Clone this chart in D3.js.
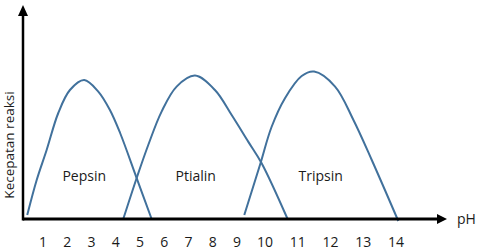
<!DOCTYPE html>
<html>
<head>
<meta charset="utf-8">
<script src="https://cdn.jsdelivr.net/npm/d3@7/dist/d3.min.js"></script>
<style>
  body { margin: 0; background: #fff; }
  svg { display: block; font-family: "Open Sans", sans-serif; }
</style>
</head>
<body>
<svg id="chart" width="482" height="250"></svg>
<script>
// tick labels on the pH axis
var phTicks = [1, 2, 3, 4, 5, 6, 7, 8, 9, 10, 11, 12, 13, 14];

// enzyme names and where the name sits (pH, rate)
var enzymes = ["Pepsin", "Ptialin", "Tripsin"];
var labelPh = [2.7, 7.3, 11.7];
var labelRate = [19, 19, 19];

// curves: pH and reaction rate (0..100)
var pepsinPh   = [0.35, 0.74, 1.15, 1.63, 2.11, 2.70, 3.28, 3.76, 4.18, 4.84, 5.48];
var pepsinRate = [2, 19.5, 34.5, 53, 64.5, 69.5, 63.7, 54.5, 43, 21.2, 0];

var ptialinPh   = [4.31, 4.86, 5.34, 5.89, 6.51, 7.27, 8.09, 8.78, 9.40, 9.88, 10.69];
var ptialinRate = [0, 20.4, 37, 53.7, 66.2, 71.7, 64.5, 52, 38.7, 27.9, 0];

var tripsinPh   = [9.26, 9.82, 10.20, 10.61, 11.12, 11.50, 12.14, 12.70, 13.26, 14.07];
var tripsinRate = [2, 27, 46, 60.4, 71.5, 73.7, 66.2, 49.5, 29.5, -1];

var svg = d3.select("#chart");
var margin = {top: 5, right: 35, bottom: 31, left: 23};
var W = 482, H = 250;

// the tick labels are not evenly spaced in the original, so a piecewise scale
var x = d3.scaleLinear()
  .domain([1, 9, 10, 14])
  .range([43, 237, 265, 396]);

var y = d3.scaleLinear()
  .domain([0, 100])
  .range([H - margin.bottom, 19]);

var x0 = margin.left, y0 = y(0);
var xEnd = W - margin.right, yEnd = margin.top;

var line = d3.line()
  .x(function(d){ return x(d[0]); })
  .y(function(d){ return y(d[1]); })
  .curve(d3.curveCatmullRom.alpha(0.5));

function pairs(a, b){ return a.map(function(v, i){ return [v, b[i]]; }); }

var curves = [pairs(pepsinPh, pepsinRate), pairs(ptialinPh, ptialinRate), pairs(tripsinPh, tripsinRate)];

svg.selectAll("path.curve")
  .data(curves)
  .enter().append("path")
  .attr("class", "curve")
  .attr("d", line)
  .attr("fill", "none")
  .attr("stroke", "#41719c")
  .attr("stroke-width", 2);

// axes
svg.append("line")
  .attr("x1", x0).attr("y1", y0)
  .attr("x2", xEnd - 8).attr("y2", y0)
  .attr("stroke", "#000").attr("stroke-width", 3);
svg.append("path")
  .attr("d", "M" + xEnd + "," + y0 + "L" + (xEnd - 10) + "," + (y0 - 5) + "L" + (xEnd - 10) + "," + (y0 + 5) + "Z")
  .attr("fill", "#000");

svg.append("line")
  .attr("x1", x0).attr("y1", y0 + 1.5)
  .attr("x2", x0).attr("y2", yEnd + 8)
  .attr("stroke", "#000").attr("stroke-width", 2.5);
svg.append("path")
  .attr("d", "M" + x0 + "," + yEnd + "L" + (x0 - 5) + "," + (yEnd + 11) + "L" + (x0 + 5) + "," + (yEnd + 11) + "Z")
  .attr("fill", "#000");

// tick labels
svg.selectAll("text.tick")
  .data(phTicks)
  .enter().append("text")
  .attr("class", "tick")
  .attr("x", function(d){ return x(d); })
  .attr("y", 247)
  .attr("text-anchor", "middle")
  .attr("font-size", "14px")
  .attr("fill", "#1a1a1a")
  .text(function(d){ return d; });

// enzyme names
svg.selectAll("text.enz")
  .data(enzymes)
  .enter().append("text")
  .attr("class", "enz")
  .attr("x", function(d, i){ return x(labelPh[i]); })
  .attr("y", function(d, i){ return y(labelRate[i]); })
  .attr("text-anchor", "middle")
  .attr("font-size", "14px")
  .attr("fill", "#1a1a1a")
  .text(function(d){ return d; });

svg.append("text")
  .attr("x", xEnd + 10)
  .attr("y", y0 + 5)
  .attr("font-size", "14px")
  .attr("fill", "#1a1a1a")
  .text("pH");

svg.append("text")
  .attr("transform", "translate(14," + 145 + ") rotate(-90)")
  .attr("text-anchor", "middle")
  .attr("font-size", "13.5px")
  .attr("fill", "#1a1a1a")
  .text("Kecepatan reaksi");
</script>
</body>
</html>
